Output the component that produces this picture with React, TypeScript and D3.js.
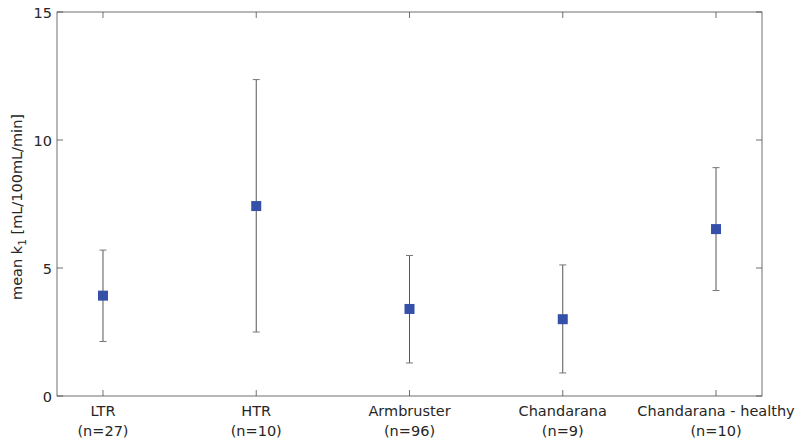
import * as d3 from 'd3'
import React, { useEffect, useRef } from 'react'

const groups = ['LTR', 'HTR', 'Armbruster', 'Chandarana', 'Chandarana - healthy']
const counts = ['(n=27)', '(n=10)', '(n=96)', '(n=9)', '(n=10)']
const means = [3.92, 7.42, 3.4, 3.0, 6.52]
const upper = [5.7, 12.36, 5.49, 5.12, 8.92]
const lower = [2.13, 2.5, 1.29, 0.9, 4.12]
const yTicks = [0, 5, 10, 15]

export default function App() {
  const ref = useRef<SVGSVGElement>(null)

  useEffect(() => {
    const svg = d3.select(ref.current)
    svg.selectAll('*').remove()

    const left = 57
    const right = 762
    const top = 12
    const bottom = 396
    const font = 'DejaVu Sans, sans-serif'
    const fs = 14.5
    const textColor = '#262626'
    const axisColor = '#4d4d4d'

    const x = d3.scaleLinear().domain([0.7, 5.3]).range([left, right])
    const y = d3.scaleLinear().domain([0, 15]).range([bottom, top])

    //error bars
    groups.forEach((g, i) => {
      const cx = x(i + 1)
      svg.append('line')
        .attr('x1', cx).attr('x2', cx)
        .attr('y1', y(lower[i])).attr('y2', y(upper[i]))
        .attr('stroke', '#555').attr('stroke-width', 1)
      ;[lower[i], upper[i]].forEach(v => {
        svg.append('line')
          .attr('x1', cx - 3.5).attr('x2', cx + 3.5)
          .attr('y1', y(v)).attr('y2', y(v))
          .attr('stroke', '#777').attr('stroke-width', 1)
      })
    })

    //markers
    svg.selectAll('rect.m')
      .data(means)
      .enter()
      .append('rect')
      .attr('x', (d, i) => x(i + 1) - 5)
      .attr('y', d => y(d) - 5)
      .attr('width', 10)
      .attr('height', 10)
      .attr('fill', '#3450a8')

    //box
    svg.append('rect')
      .attr('x', left).attr('y', top)
      .attr('width', right - left).attr('height', bottom - top)
      .attr('fill', 'none').attr('stroke', axisColor).attr('stroke-width', 0.8)

    //y ticks
    yTicks.forEach(t => {
      svg.append('line').attr('x1', left).attr('x2', left + 6)
        .attr('y1', y(t)).attr('y2', y(t)).attr('stroke', axisColor).attr('stroke-width', 0.8)
      svg.append('line').attr('x1', right).attr('x2', right - 6)
        .attr('y1', y(t)).attr('y2', y(t)).attr('stroke', axisColor).attr('stroke-width', 0.8)
      svg.append('text')
        .attr('x', left - 5).attr('y', y(t) + 5.5)
        .attr('text-anchor', 'end')
        .attr('font-family', font).attr('font-size', fs)
        .attr('fill', textColor)
        .text(t)
    })

    //x ticks and labels
    groups.forEach((g, i) => {
      const cx = x(i + 1)
      svg.append('line').attr('x1', cx).attr('x2', cx)
        .attr('y1', bottom).attr('y2', bottom - 6).attr('stroke', axisColor).attr('stroke-width', 0.8)
      svg.append('line').attr('x1', cx).attr('x2', cx)
        .attr('y1', top).attr('y2', top + 6).attr('stroke', axisColor).attr('stroke-width', 0.8)
      svg.append('text')
        .attr('x', cx).attr('y', 416)
        .attr('text-anchor', 'middle')
        .attr('font-family', font).attr('font-size', fs)
        .attr('fill', textColor)
        .text(g)
      svg.append('text')
        .attr('x', cx).attr('y', 436)
        .attr('text-anchor', 'middle')
        .attr('font-family', font).attr('font-size', fs)
        .attr('fill', textColor)
        .text(counts[i])
    })

    //y label
    const yl = svg.append('text')
      .attr('transform', `translate(22,207) rotate(-90)`)
      .attr('text-anchor', 'middle')
      .attr('font-family', font).attr('font-size', fs)
      .attr('fill', textColor)
    yl.append('tspan').text('mean k')
    yl.append('tspan').attr('font-size', 10.5).attr('dy', 4).text('1')
    yl.append('tspan').attr('dy', -4).text(' [mL/100mL/min]')
  }, [])

  return (
    <svg ref={ref} width={800} height={445}
      style={{ position: 'absolute', left: 0, top: 0, background: '#fff' }} />
  )
}
